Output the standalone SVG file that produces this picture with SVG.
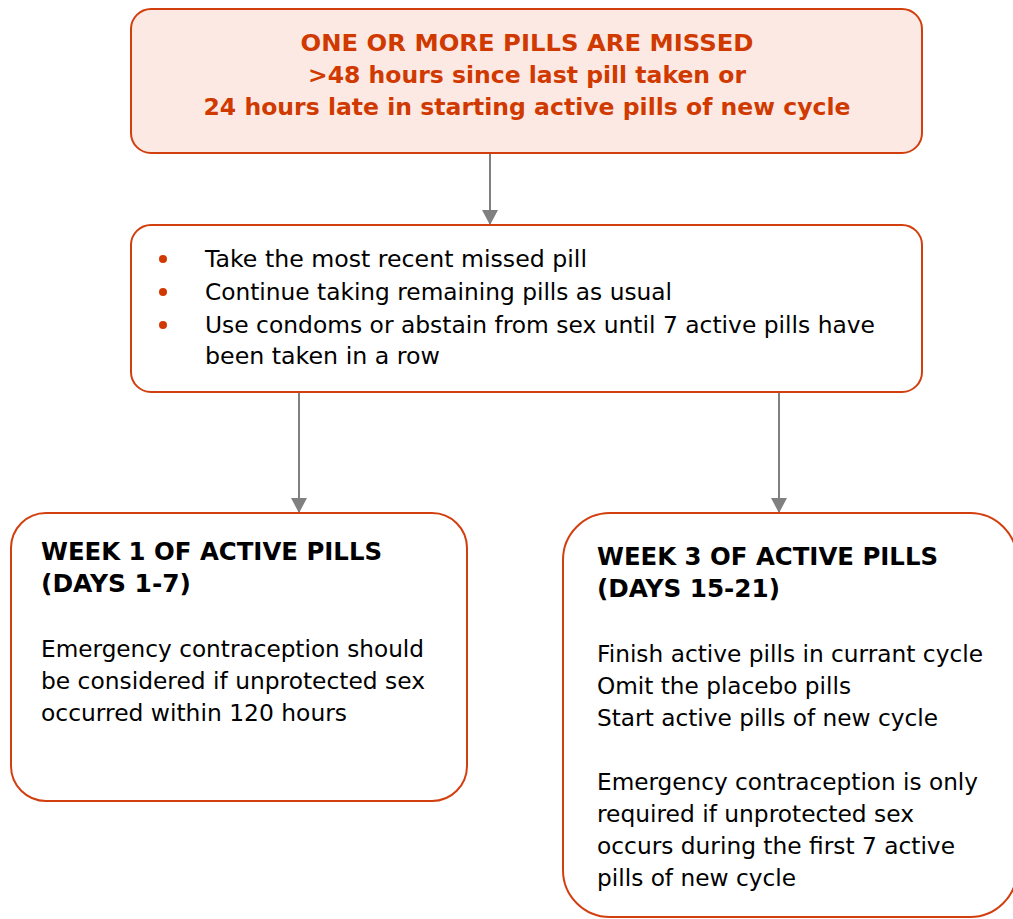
<svg xmlns="http://www.w3.org/2000/svg" width="1013" height="919" viewBox="0 0 1013 919">
<style>
.box{stroke:#d23f0f;stroke-width:2;}
.t{font-family:"DejaVu Sans",Verdana,sans-serif;font-size:23.5px;fill:#000;}
.b{font-weight:bold;font-size:24.3px;}
.red{fill:#d03a00;font-weight:bold;}
.conn{stroke:#808080;stroke-width:2;fill:none;}
</style>
<defs>
<marker id="arr" markerWidth="15" markerHeight="16" refX="14" refY="8" orient="auto" markerUnits="userSpaceOnUse">
<path d="M0,0 L15,8 L0,16 Z" fill="#808080"/>
</marker>
</defs>
<rect width="1013" height="919" fill="#fff"/>
<g id="connectors">
<line class="conn" x1="490" y1="153" x2="490" y2="224" marker-end="url(#arr)"/>
<line class="conn" x1="299" y1="392" x2="299" y2="512" marker-end="url(#arr)"/>
<line class="conn" x1="779" y1="392" x2="779" y2="512" marker-end="url(#arr)"/>
</g>
<g id="n-missed">
<rect class="box" x="131" y="9" width="791" height="144" rx="20" fill="#fde9e4"/>
<text class="t red" x="527" y="51" text-anchor="middle" textLength="453" lengthAdjust="spacingAndGlyphs">ONE OR MORE PILLS ARE MISSED</text>
<text class="t red" x="527" y="83" text-anchor="middle" textLength="438" lengthAdjust="spacingAndGlyphs">&gt;48 hours since last pill taken or</text>
<text class="t red" x="527" y="115" text-anchor="middle" textLength="647" lengthAdjust="spacingAndGlyphs">24 hours late in starting active pills of new cycle</text>
</g>
<g id="n-actions">
<rect class="box" x="131" y="225" width="791" height="167" rx="20" fill="#fff"/>
<circle cx="163" cy="259" r="4" fill="#d03a00"/>
<circle cx="163" cy="292" r="4" fill="#d03a00"/>
<circle cx="163" cy="325" r="4" fill="#d03a00"/>
<text class="t" x="205" y="267" textLength="382" lengthAdjust="spacingAndGlyphs">Take the most recent missed pill</text>
<text class="t" x="205" y="300" textLength="467" lengthAdjust="spacingAndGlyphs">Continue taking remaining pills as usual</text>
<text class="t" x="205" y="333" textLength="670" lengthAdjust="spacingAndGlyphs">Use condoms or abstain from sex until 7 active pills have</text>
<text class="t" x="205" y="364" textLength="235" lengthAdjust="spacingAndGlyphs">been taken in a row</text>
</g>
<g id="n-week1">
<rect class="box" x="11" y="513" width="456" height="288" rx="35" fill="#fff"/>
<text class="t b" x="41" y="560" textLength="341" lengthAdjust="spacingAndGlyphs">WEEK 1 OF ACTIVE PILLS</text>
<text class="t b" x="41" y="592" textLength="150" lengthAdjust="spacingAndGlyphs">(DAYS 1-7)</text>
<text class="t" x="41" y="657" textLength="383" lengthAdjust="spacingAndGlyphs">Emergency contraception should</text>
<text class="t" x="41" y="689" textLength="384" lengthAdjust="spacingAndGlyphs">be considered if unprotected sex</text>
<text class="t" x="41" y="721" textLength="306" lengthAdjust="spacingAndGlyphs">occurred within 120 hours</text>
</g>
<g id="n-week3">
<rect class="box" x="563" y="513" width="454" height="404" rx="47" fill="#fff"/>
<text class="t b" x="597" y="565" textLength="341" lengthAdjust="spacingAndGlyphs">WEEK 3 OF ACTIVE PILLS</text>
<text class="t b" x="597" y="597" textLength="183" lengthAdjust="spacingAndGlyphs">(DAYS 15-21)</text>
<text class="t" x="597" y="662" textLength="386" lengthAdjust="spacingAndGlyphs">Finish active pills in currant cycle</text>
<text class="t" x="597" y="694" textLength="254" lengthAdjust="spacingAndGlyphs">Omit the placebo pills</text>
<text class="t" x="597" y="726" textLength="341" lengthAdjust="spacingAndGlyphs">Start active pills of new cycle</text>
<text class="t" x="597" y="790" textLength="381" lengthAdjust="spacingAndGlyphs">Emergency contraception is only</text>
<text class="t" x="597" y="822" textLength="317" lengthAdjust="spacingAndGlyphs">required if unprotected sex</text>
<text class="t" x="597" y="854" textLength="358" lengthAdjust="spacingAndGlyphs">occurs during the first 7 active</text>
<text class="t" x="597" y="886" textLength="199" lengthAdjust="spacingAndGlyphs">pills of new cycle</text>
</g>
</svg>
